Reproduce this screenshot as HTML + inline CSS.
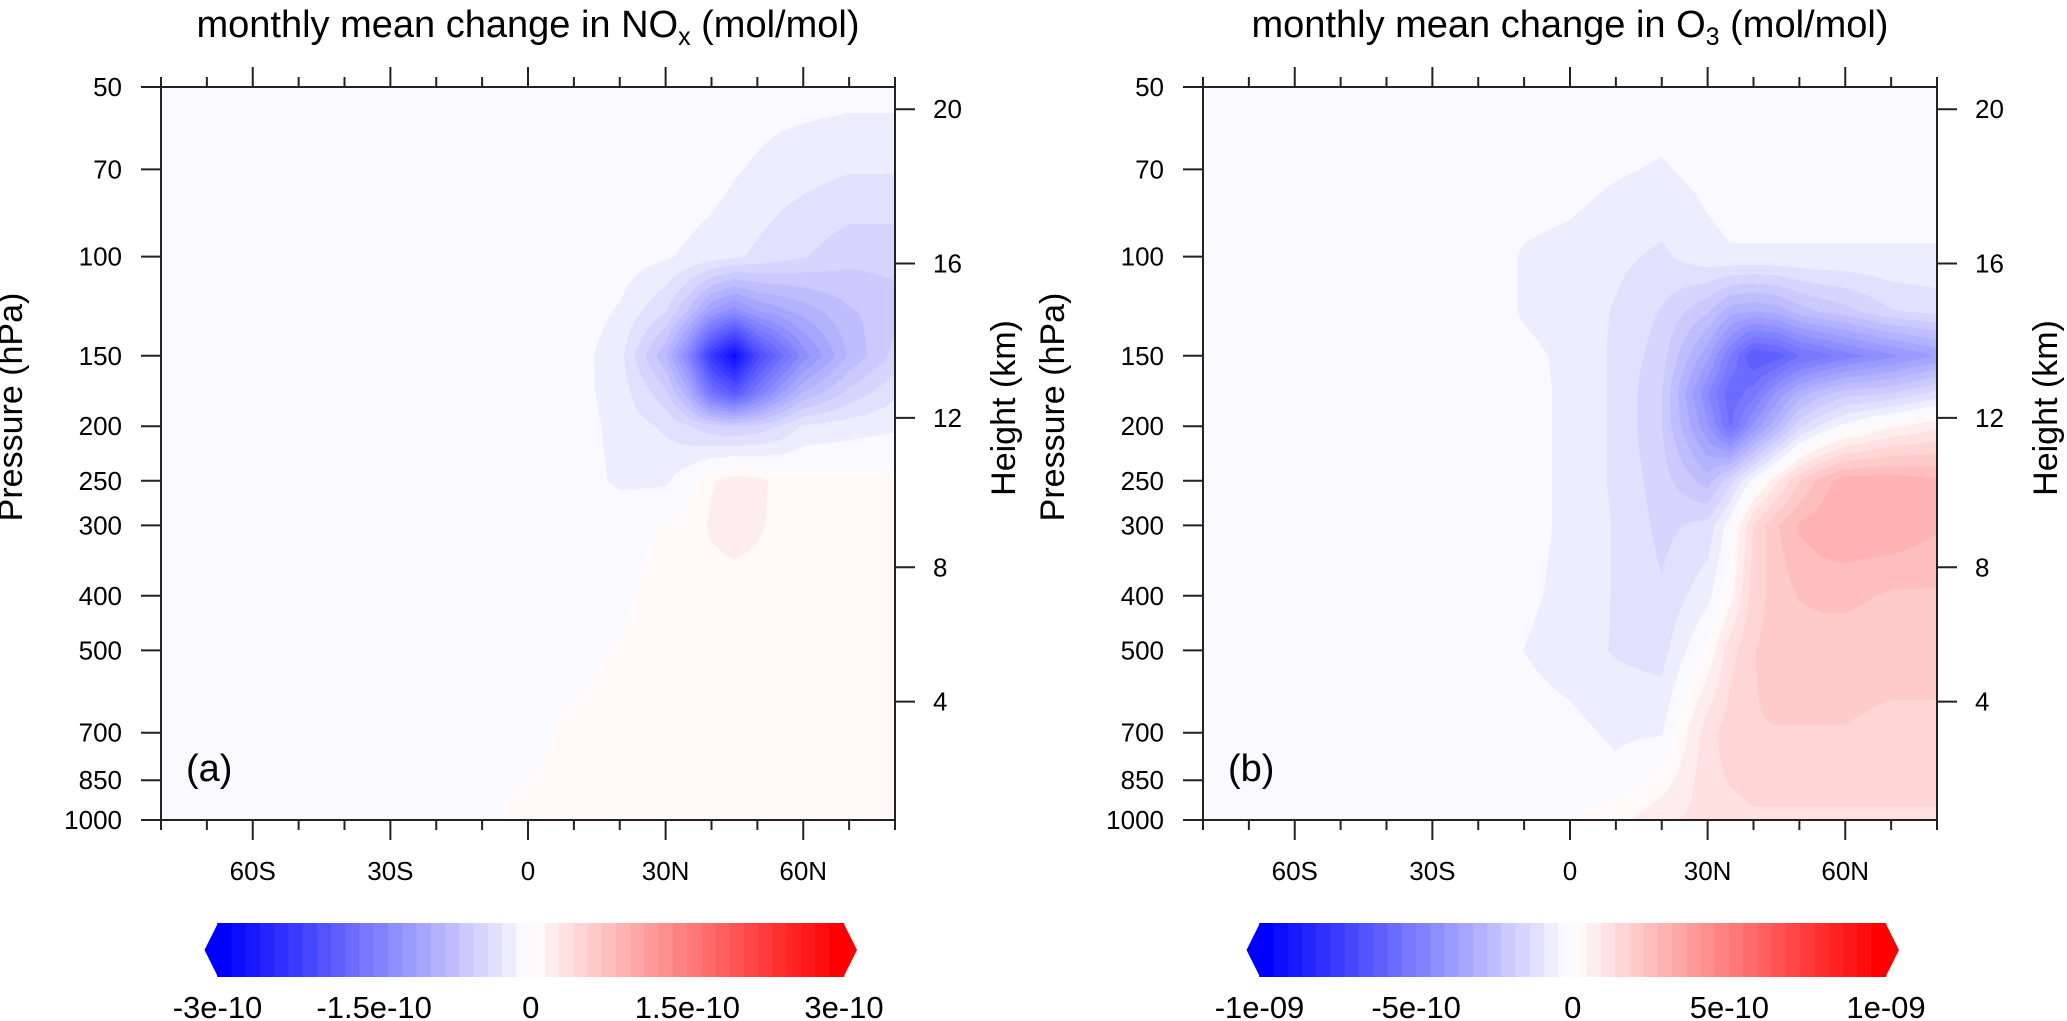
<!DOCTYPE html>
<html><head><meta charset="utf-8">
<style>
html,body{margin:0;padding:0;background:#fff;}
#wrap{position:relative;width:2067px;height:1021px;overflow:hidden;background:#fff;}
canvas{position:absolute;}
svg{position:absolute;left:0;top:0;}
text{font-family:"Liberation Sans",Arial,sans-serif;fill:#000;}
</style></head>
<body>
<div id="wrap">
<canvas id="cA"></canvas>
<canvas id="cB"></canvas>
<svg id="svg" width="2067" height="1021" viewBox="0 0 2067 1021"></svg>
</div>
<script>
// ---- data (values in units of 1e-11 mol/mol) ----
const lats = [-80,-60,-40,-20,-10,0,10,20,30,35,40,45,50,55,60,70,80];
const levels = [1000,850,700,500,400,300,250,200,175,150,125,100,70,50];
const noxField = [
 [-.5,-.5,-.5,-.5,-.5,.8,.6,.6,.6,.6,.6,.6,.6,.6,.6,.6,.6],
 [-.5,-.5,-.5,-.5,-.5,.05,.6,.6,.6,.6,.6,.6,.6,.6,.6,.6,.6],
 [-.5,-.5,-.5,-.5,-.5,-.5,.4,.6,.6,.6,.6,.6,.6,.6,.6,.6,.6],
 [-.5,-.5,-.5,-.5,-.5,-.5,-.5,.15,.6,.6,.6,.6,.6,.6,.6,.6,.6],
 [-.5,-.5,-.5,-.5,-.5,-.5,-.5,-.3,.6,.6,.6,.6,.6,.6,.6,.6,.6],
 [-.5,-.5,-.5,-.5,-.5,-.5,-.5,-.5,.1,.5,1.6,2.1,1.6,.9,.6,.6,.6],
 [-.5,-.5,-.5,-.5,-.5,-.5,-.7,-1.6,-1.6,-.4,1.2,2.1,1.7,1.0,.6,.5,.5],
 [-.5,-.5,-.5,-.5,-.5,-.5,-.7,-1.8,-3,-4,-5,-5.5,-5,-4,-2.5,-2,-1.6],
 [-.5,-.5,-.5,-.5,-.5,-.5,-.8,-2,-5,-9,-16,-19,-15,-11,-8,-5,-3],
 [-.5,-.5,-.5,-.5,-.5,-.5,-.7,-2.2,-8,-14,-23,-28,-21,-17,-13,-8,-5],
 [-.5,-.5,-.5,-.5,-.5,-.5,-.6,-1.5,-4,-7,-11,-13,-11,-10,-9,-7,-6],
 [-.5,-.5,-.5,-.5,-.5,-.5,-.5,-.6,-1.2,-1.6,-2,-2.5,-3,-3.5,-4,-5,-5],
 [-.5,-.5,-.5,-.5,-.5,-.5,-.5,-.5,-.5,-.5,-.7,-1.2,-1.6,-2,-2.2,-2.6,-2.6],
 [-.5,-.5,-.5,-.5,-.5,-.5,-.5,-.5,-.5,-.5,-.5,-.5,-.5,-.6,-.7,-.8,-.8]
];
const o3Field = [
 [-2,-2,-2,-2,-1.5,-0.3,3,8,11,12,13,13,13,13,13,13,13],
 [-2,-2,-2,-2,-2,-1.5,-3,2,12,14,15,15,15,15,15,15,15],
 [-2,-2,-2,-2,-2,-3,-5.5,-5,12,16,18,18,18,18,18,17,17],
 [-2,-2,-2,-2,-4.6,-7,-9.5,-11,1,12,18,20,20,20,20,20,20],
 [-2,-2,-2,-2,-3.5,-6,-9.5,-13,-6,3,16,20,23,24,24,22,22],
 [-2,-2,-2,-2,-3,-5.5,-9.5,-15,-12,-2,14,22,28,30,31,31,28],
 [-2,-2,-2,-2,-3,-5.5,-10,-16,-25,-15,-3,8,18,25,30,30,28],
 [-2,-2,-2,-2,-3,-5.5,-10,-18,-40,-55,-40,-28,-15,-8,-3,4,8],
 [-2,-2,-2,-2,-3,-5.5,-10,-18,-45,-58,-52,-40,-30,-24,-20,-18,-12],
 [-2,-2,-2,-2,-3.5,-5.5,-10,-16,-35,-50,-64,-62,-55,-52,-48,-42,-36],
 [-2,-2,-2,-2,-5,-6.5,-9.5,-14,-22,-30,-32,-30,-25,-22,-20,-14,-12],
 [-2,-2,-2,-2,-5,-6,-8,-10,-6,-5,-5,-5,-5,-5,-5,-5,-5],
 [-2,-2,-2,-2,-2,-2.5,-4,-5,-3,-2,-2,-2,-2,-2,-2,-2,-2],
 [-2,-2,-2,-2,-2,-2,-2,-2,-2,-2,-2,-2,-2,-2,-2,-2,-2]
];
const pTicks = [50,70,100,150,200,250,300,400,500,700,850,1000];
const hTicks = [4,8,12,16,20];
const latMajor = [-60,-30,0,30,60];
const latLabels = ["60S","30S","0","30N","60N"];
const latMinor = [-80,-70,-50,-40,-20,-10,10,20,40,50,70,80];
const cbValsA = [-30,-15,0,15,30];
const cbLabelsA = ["-3e-10","-1.5e-10","0","1.5e-10","3e-10"];
const cbValsB = [-100,-50,0,50,100];
const cbLabelsB = ["-1e-09","-5e-10","0","5e-10","1e-09"];
const vmaxA = 30, vmaxB = 100, nBoxes = 22;

// ---- layout ----
const PY0 = 87, PY1 = 820;
const panels = [
 {x0:161, x1:895, field:noxField, vmax:vmaxA, cv:'cA', tag:'a', sub:'x', sp:'NO', cbV:cbValsA, cbL:cbLabelsA},
 {x0:1203, x1:1937, field:o3Field, vmax:vmaxB, cv:'cB', tag:'b', sub:'3', sp:'O', cbV:cbValsB, cbL:cbLabelsB}
];
const NS = 'http://www.w3.org/2000/svg';
const svg = document.getElementById('svg');
function yOfP(p){ return PY0 + (PY1-PY0)*Math.log(p/50)/Math.log(20); }
function xOfLat(P, lat){ return P.x0 + (lat+80)/160*(P.x1-P.x0); }
function pOfZ(z){ // ISA
  if (z <= 11) return 1013.25*Math.pow(1-0.0065*z*1000/288.15, 5.2559);
  return 226.32*Math.exp(-(z-11)/6.3416);
}
function colorFor(v, vmax){
  const dv = vmax/nBoxes;
  let n = Math.floor(Math.abs(v)/dv)+1;
  let c = n > nBoxes ? 0 : Math.round(255*(1-(n-0.5)/(nBoxes-0.5)));
  if (n > nBoxes) c = 0;
  return v < 0 ? [c,c,255] : [255,c,c];
}
function mk(tag, attrs, parent){
  const e = document.createElementNS(NS, tag);
  for (const k in attrs) e.setAttribute(k, attrs[k]);
  (parent||svg).appendChild(e);
  return e;
}
function findIdx(arr, v){
  for (let i=0;i<arr.length-1;i++){ if (v <= arr[i+1]) return i; }
  return arr.length-2;
}
const lnLev = levels.map(p => -Math.log(p));

panels.forEach(P => {
  const W = P.x1-P.x0, H = PY1-PY0;
  const cv = document.getElementById(P.cv);
  cv.width = W; cv.height = H;
  cv.style.left = P.x0+'px'; cv.style.top = PY0+'px';
  const ctx = cv.getContext('2d');
  const img = ctx.createImageData(W, H);
  const colI = [], colT = [];
  for (let px=0; px<W; px++){
    const lat = -80 + 160*(px+0.5)/W;
    const i = findIdx(lats, lat);
    colI.push(i); colT.push(Math.min(1,Math.max(0,(lat-lats[i])/(lats[i+1]-lats[i]))));
  }
  for (let py=0; py<H; py++){
    const p = 50*Math.exp(Math.log(20)*(py+0.5)/H);
    const lp = -Math.log(p);
    const j = findIdx(lnLev, lp);
    const t = Math.min(1,Math.max(0,(lp-lnLev[j])/(lnLev[j+1]-lnLev[j])));
    const r0 = P.field[j], r1 = P.field[j+1];
    for (let px=0; px<W; px++){
      const i = colI[px], s = colT[px];
      const a = r0[i]*(1-s)+r0[i+1]*s, b = r1[i]*(1-s)+r1[i+1]*s;
      const v = a*(1-t)+b*t;
      const c = colorFor(v, P.vmax);
      const k = (py*W+px)*4;
      img.data[k]=c[0]; img.data[k+1]=c[1]; img.data[k+2]=c[2]; img.data[k+3]=255;
    }
  }
  ctx.putImageData(img,0,0);

  const g = mk('g', {});
  
  
  const cx = (P.x0+P.x1)/2;
  const tt = mk('text', {x:cx, y:37, 'text-anchor':'middle', 'font-size':38}, g);
  
  
  tt.appendChild(document.createTextNode('monthly mean change in '+P.sp));
  const ts = mk('tspan', {'font-size':25, dy:8}, tt); ts.textContent = P.sub;
  const ts2 = mk('tspan', {dy:-8}, tt); ts2.textContent = ' (mol/mol)';
  const fr = mk('rect', {x:P.x0, y:PY0, width:W, height:H, fill:'none', stroke:'#222', 'stroke-width':2}, g);
  
  
  pTicks.forEach(p => {
    const y = yOfP(p);
    const l = mk('line', {x1:P.x0-20, x2:P.x0, y1:y, y2:y, stroke:'#222', 'stroke-width':2}, g);
    
    
    const t = mk('text', {x:P.x0-39, y:y+9, 'text-anchor':'end', 'font-size':26}, g);
    
    
    t.textContent = p;
  });
  hTicks.forEach(z => {
    const y = yOfP(pOfZ(z));
    const l = mk('line', {x1:P.x1, x2:P.x1+20, y1:y, y2:y, stroke:'#222', 'stroke-width':2}, g);
    
    
    const t = mk('text', {x:P.x1+38, y:y+9, 'font-size':26}, g);
    
    
    t.textContent = z;
  });
  latMajor.forEach((lat, i) => {
    const x = xOfLat(P, lat);
    const l1 = mk('line', {x1:x, x2:x, y1:PY0-20, y2:PY0, stroke:'#222', 'stroke-width':2}, g);
    
    
    const l2 = mk('line', {x1:x, x2:x, y1:PY1, y2:PY1+20, stroke:'#222', 'stroke-width':2}, g);
    
    
    const t = mk('text', {x:x, y:880, 'text-anchor':'middle', 'font-size':26}, g);
    
    
    t.textContent = latLabels[i];
  });
  latMinor.forEach(lat => {
    const x = xOfLat(P, lat);
    const l1 = mk('line', {x1:x, x2:x, y1:PY0-10, y2:PY0, stroke:'#222', 'stroke-width':2}, g);
    
    
    const l2 = mk('line', {x1:x, x2:x, y1:PY1, y2:PY1+10, stroke:'#222', 'stroke-width':2}, g);
    
    
  });
  const ya = P.x0-139;
  const pt = mk('text', {x:ya, y:407, 'text-anchor':'middle', 'font-size':34, transform:'rotate(-90 '+ya+' 407)'}, g);
  
  
  pt.textContent = 'Pressure (hPa)';
  const hx = P.x1+120;
  const ht = mk('text', {x:hx, y:408, 'text-anchor':'middle', 'font-size':34, transform:'rotate(-90 '+hx+' 408)'}, g);
  
  
  ht.textContent = 'Height (km)';
  const pl = mk('text', {x:P.x0+25, y:781, 'font-size':38}, g);
  
  
  pl.textContent = '('+P.tag+')';
  const cb = mk('g', {}, g);
  
  
  const cbX0 = P.x0+56.5, cbX1 = P.x0+683, cbY0 = 923, cbY1 = 977;
  const bw = (cbX1-cbX0)/(2*nBoxes);
  const dv = P.vmax/nBoxes;
  for (let k=0; k<2*nBoxes; k++){
    const v = -P.vmax + (k+0.5)*dv;
    const c = colorFor(v, P.vmax);
    const r = mk('rect', {x:cbX0+k*bw-0.3, y:cbY0, width:bw+0.6, height:cbY1-cbY0, fill:'rgb('+c.join(',')+')'}, cb);
    
    
  }
  const tl = mk('polygon', {points:(cbX0+0.5)+','+cbY0+' '+(cbX0-13)+','+((cbY0+cbY1)/2)+' '+(cbX0+0.5)+','+cbY1, fill:'#0000ff'}, cb);
  
  
  const tr = mk('polygon', {points:(cbX1-0.5)+','+cbY0+' '+(cbX1+13)+','+((cbY0+cbY1)/2)+' '+(cbX1-0.5)+','+cbY1, fill:'#ff0000'}, cb);
  
  
  P.cbV.forEach((v, i) => {
    const x = cbX0 + (v+P.vmax)/(2*P.vmax)*(cbX1-cbX0);
    const t = mk('text', {x:x, y:1018, 'text-anchor':'middle', 'font-size':31}, cb);
    
    
    t.textContent = P.cbL[i];
  });
});
</script>
</body></html>
